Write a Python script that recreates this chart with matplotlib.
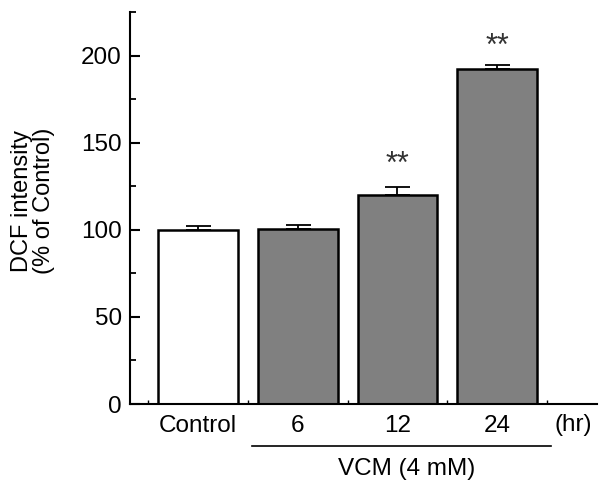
import matplotlib
matplotlib.use("Agg")
import matplotlib.pyplot as plt
import numpy as np

plt.rcParams['font.family'] = ['Liberation Sans', 'DejaVu Sans']

categories = ["Control", "6", "12", "24"]
values = [100.0, 100.6, 120.2, 192.5]
errors = [2.0, 2.0, 4.3, 2.0]
colors = ["white", "#808080", "#808080", "#808080"]
stars = ["", "", "**", "**"]
star_y = [0, 0, 137, 205]

fig = plt.figure(figsize=(6.03, 4.86), dpi=100)
ax = fig.add_axes([0.2156, 0.1687, 0.7744, 0.8066])

x = np.arange(len(categories))
ax.bar(x, values, width=0.8, color=colors, edgecolor="black", linewidth=1.8, zorder=2)
ax.errorbar(x, values, yerr=[np.zeros(len(errors)), errors], fmt="none",
            ecolor="black", elinewidth=1.3, capsize=9, capthick=1.3, zorder=3)
for xi, s, sy in zip(x, stars, star_y):
    if s:
        ax.text(xi, sy, s, ha="center", va="center", fontsize=22, color="#333333")

ax.set_xlim(-0.68, 4.0)
ax.set_ylim(0, 225)
ax.set_yticks([0, 50, 100, 150, 200])
ax.set_yticks(np.arange(0, 226, 25), minor=True)
ax.set_xticks(x)
ax.set_xticklabels(categories)
ax.set_xticks(np.arange(-0.5, 4.0, 0.5), minor=True)

for side in ["top", "right"]:
    ax.spines[side].set_visible(False)
for side in ["left", "bottom"]:
    ax.spines[side].set_linewidth(1.5)

ax.tick_params(axis="y", which="major", direction="in", length=7, width=1.5, labelsize=17.5, pad=6)
ax.tick_params(axis="y", which="minor", direction="in", length=4, width=1.3)
ax.tick_params(axis="x", which="major", direction="in", length=3, width=1, labelsize=17.5, pad=8)
ax.tick_params(axis="x", which="minor", direction="in", length=3, width=1)

fig.text(33 / 603, 1 - 201 / 486, "DCF intensity\n(% of Control)", rotation=90,
         ha="center", va="center", fontsize=17, linespacing=0.95)

xt = ax.get_xaxis_transform()
ax.text(3.76, -0.0536, "(hr)", transform=xt, ha="center", va="center", fontsize=17.5)
ax.plot([0.54, 3.54], [-0.107, -0.107], transform=xt, color="black",
        linewidth=1.2, clip_on=False)
ax.text(2.09, -0.166, "VCM (4 mM)", transform=xt, ha="center", va="center", fontsize=17.5)

fig.savefig("out.png", dpi=100)
